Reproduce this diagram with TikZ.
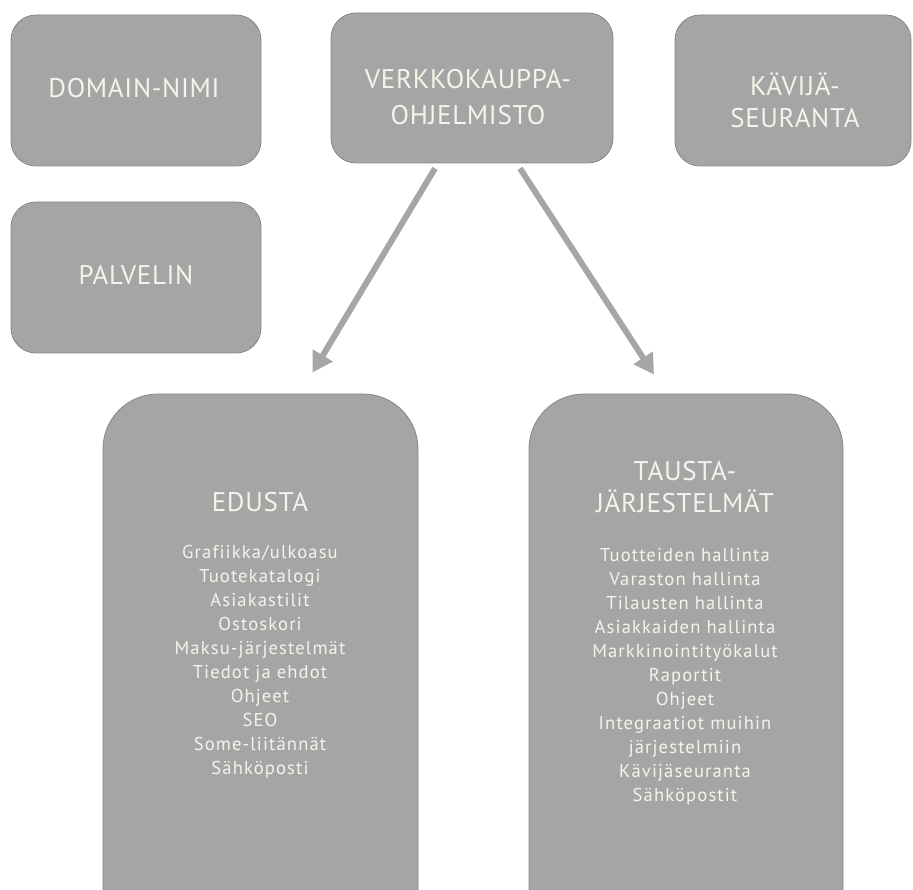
\documentclass[tikz,border=0pt]{standalone}
\usepackage{fontspec}
\setmainfont{PT Sans}
\newfontfamily\headfont[LetterSpace=2.5]{PT Sans}
\newfontfamily\itemfont[LetterSpace=6,Ligatures=NoCommon]{PT Sans}
\usetikzlibrary{arrows.meta}
\definecolor{boxfill}{HTML}{A5A5A5}
\definecolor{boxline}{HTML}{878787}
\definecolor{boxtext}{HTML}{F4F4EA}
\definecolor{arrowgray}{HTML}{A6A6A6}

\begin{document}
\begin{tikzpicture}[x=1pt,y=-1pt,
  card/.style={draw=boxline, line width=0.8pt, fill=boxfill, rounded corners=25pt, inner sep=0pt},
  bigcard/.style={card, rounded corners=55pt},
  head/.style={text=boxtext, font=\headfont\fontsize{27}{36}\selectfont, align=center, inner sep=0pt},
  smallhead/.style={head, font=\headfont\fontsize{27}{32}\selectfont},
  items/.style={text=boxtext, font=\itemfont\fontsize{18.6}{24}\selectfont, align=center, inner sep=0pt},
  link/.style={draw=arrowgray, line width=6pt, -{Triangle[width=22pt,length=20pt]}}]
\useasboundingbox (0,0) rectangle (913,890);

% top row and the server box
\node[card, minimum width=250pt, minimum height=151pt] (domain) at (136,90.5) {};
\node[card, minimum width=250pt, minimum height=151pt] (server) at (136,277.5) {};
\node[card, minimum width=282pt, minimum height=150pt] (shop) at (472,88) {};
\node[card, minimum width=236pt, minimum height=151pt] (stats) at (793,90.5) {};

\node[head] (domaintext) at (134,88) {DOMAIN-NIMI};
\node[head] (servertext) at (136,275) {PALVELIN};
\node[head] (shoptext) at (468,97) {VERKKOKAUPPA-\\OHJELMISTO};
\node[smallhead] (statstext) at (795,100) {KÄVIJÄ-\\SEURANTA};

% the two large boxes run past the lower edge
\node[bigcard, minimum width=315pt, minimum height=560pt] (front) at (260.5,674) {};
\node[bigcard, minimum width=314pt, minimum height=560pt] (back) at (686,674) {};

\node[head] (fronthead) at (260,502) {EDUSTA};
\node[items] (frontitems) at (260,662) {Grafiikka/ulkoasu\\Tuotekatalogi\\Asiakastilit\\Ostoskori\\Maksu-järjestelmät\\Tiedot ja ehdot\\Ohjeet\\SEO\\Some-liitännät\\Sähköposti};

\node[smallhead] (backhead) at (685,487) {TAUSTA-\\JÄRJESTELMÄT};
\node[items] (backitems) at (685,677) {Tuotteiden hallinta\\Varaston hallinta\\Tilausten hallinta\\Asiakkaiden hallinta\\Markkinointityökalut\\Raportit\\Ohjeet\\Integraatiot muihin\\järjestelmiin\\Kävijäseuranta\\Sähköpostit};

% arrows from the shop software down to both parts
\draw[link] ([xshift=-37pt,yshift=-5pt]shop.south) -- ([xshift=52pt,yshift=21pt]front.north);
\draw[link] ([xshift=48pt,yshift=-5pt]shop.south) -- ([xshift=-32pt,yshift=19pt]back.north);
\end{tikzpicture}
\end{document}
